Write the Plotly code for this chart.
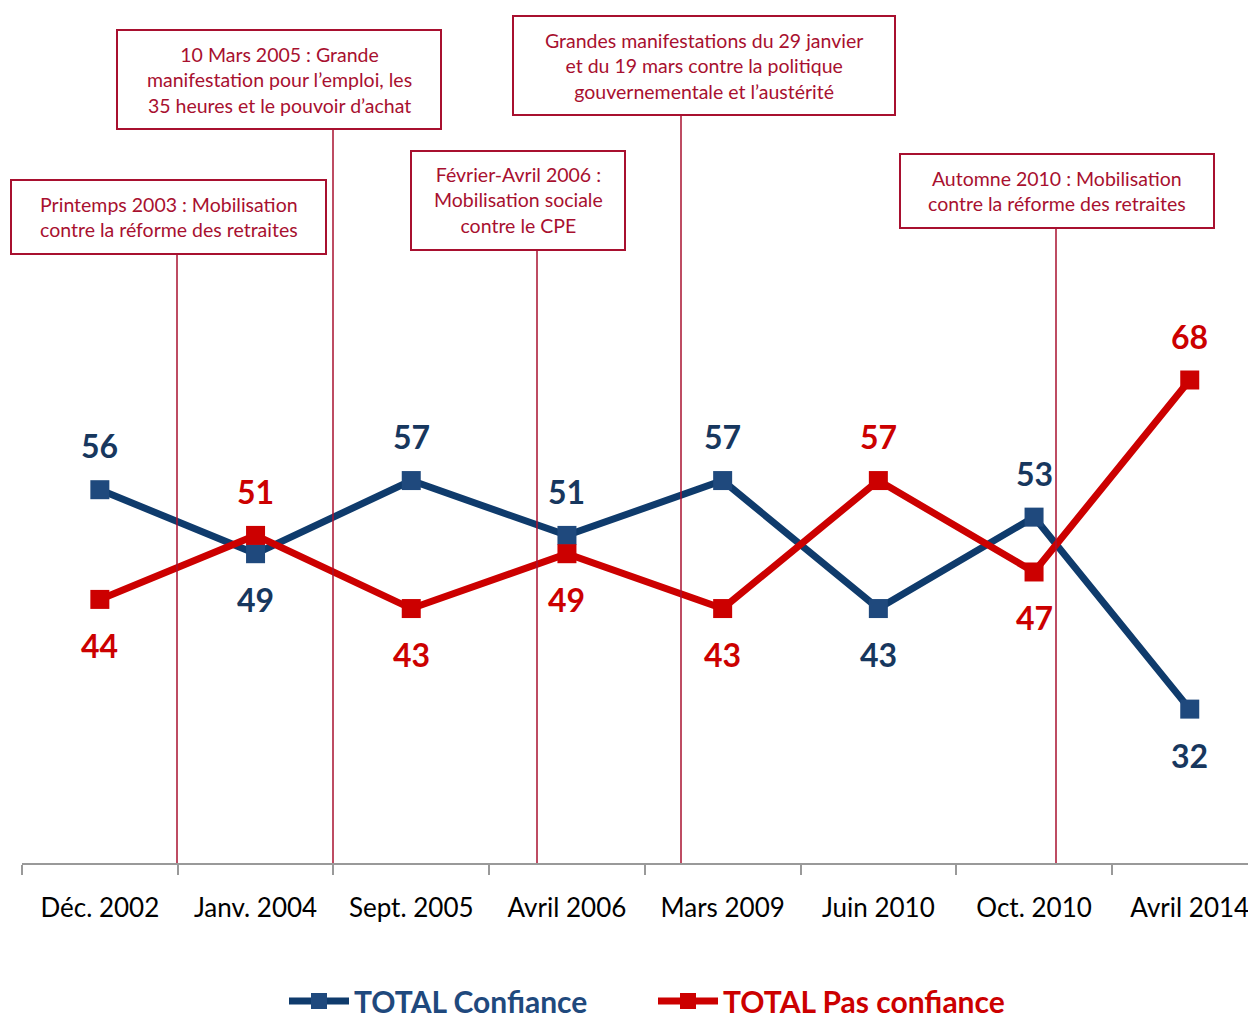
import plotly.graph_objects as go

categories = ["Déc. 2002", "Janv. 2004", "Sept. 2005", "Avril 2006",
              "Mars 2009", "Juin 2010", "Oct. 2010", "Avril 2014"]
confiance = [56, 49, 57, 51, 57, 43, 53, 32]
pas_confiance = [44, 51, 43, 49, 43, 57, 47, 68]
# label placement: +1 above, -1 below
conf_pos = [1, -1, 1, 1, 1, -1, 1, -1]
pas_pos = [-1, 1, -1, -1, -1, 1, -1, 1]

events = [
    "Printemps 2003 : Mobilisation<br>contre la réforme des retraites",
    "10 Mars 2005 : Grande<br>manifestation pour l’emploi, les<br>35 heures et le pouvoir d’achat",
    "Février-Avril 2006 :<br>Mobilisation sociale<br>contre le CPE",
    "Grandes manifestations du 29 janvier<br>et du 19 mars contre la politique<br>gouvernementale et l’austérité",
    "Automne 2010 : Mobilisation<br>contre la réforme des retraites",
]
# box geometry in screen pixels: left, top, right, bottom ; vertical line x in screen pixels
boxes_px = [(11, 180, 326, 254), (117, 30, 441, 129), (411, 151, 625, 250),
            (513, 16, 895, 115), (900, 154, 1214, 228)]
vline_px = [177, 333, 537, 681, 1056]

BLUE_LINE = "#0F3B6C"
BLUE_MARK = "#1F497D"
BLUE_TXT = "#17375E"
RED = "#CC0000"
CRIMSON = "#A8102F"
FONT = "Lato"

OFF = 8  # page body margin
W, H = 1256 - 2 * OFF, 1023 - OFF
ML, MT = 22 - OFF, 0
PLOT_BOTTOM = 863 - OFF
MR, MB = 0, H - PLOT_BOTTOM
PW, PH = W - ML - MR, H - MT - MB
CAT_PX = 155.7
UNIT_PX = 9.142

def px2paper_x(px):
    return (px - OFF - ML) / PW

def px2paper_y(py):
    return (MT + PH - (py - OFF)) / PH

fig = go.Figure()
fig.add_trace(go.Scatter(
    x=categories, y=confiance,
    name=f"<span style='color:{BLUE_MARK}'><b>TOTAL Confiance</b></span>",
    mode="lines+markers",
    line=dict(color=BLUE_LINE, width=7),
    marker=dict(symbol="square", size=19, color=BLUE_MARK),
))
fig.add_trace(go.Scatter(
    x=categories, y=pas_confiance,
    name=f"<span style='color:{RED}'><b>TOTAL Pas confiance</b></span>",
    mode="lines+markers",
    line=dict(color=RED, width=7),
    marker=dict(symbol="square", size=19, color=RED),
))

annotations = []
for c, v, p in zip(categories, confiance, conf_pos):
    annotations.append(dict(x=c, y=v, xref="x", yref="y", text=f"<b>{v}</b>",
                            showarrow=False, yshift=44 if p > 0 else -46,
                            font=dict(family=FONT, size=32, color=BLUE_TXT)))
for c, v, p in zip(categories, pas_confiance, pas_pos):
    annotations.append(dict(x=c, y=v, xref="x", yref="y", text=f"<b>{v}</b>",
                            showarrow=False, yshift=44 if p > 0 else -46,
                            font=dict(family=FONT, size=32, color=RED)))

shapes = []
for txt, (l, t, r, b), vx in zip(events, boxes_px, vline_px):
    shapes.append(dict(type="line", xref="paper", yref="paper",
                       x0=px2paper_x(vx), x1=px2paper_x(vx),
                       y0=px2paper_y(b), y1=0,
                       line=dict(color=CRIMSON, width=1.5), layer="above"))
    shapes.append(dict(type="rect", xref="paper", yref="paper",
                       x0=px2paper_x(l), x1=px2paper_x(r),
                       y0=px2paper_y(b), y1=px2paper_y(t),
                       line=dict(color=CRIMSON, width=2), fillcolor="white", layer="above"))
    annotations.append(dict(x=px2paper_x((l + r) / 2), y=px2paper_y((t + b) / 2),
                            xref="paper", yref="paper", text=txt, showarrow=False,
                            align="center", xanchor="center", yanchor="middle",
                            font=dict(family=FONT, size=19.5, color=CRIMSON)))

fig.update_layout(
    width=W, height=H,
    margin=dict(l=ML, r=MR, t=MT, b=MB, autoexpand=False),
    paper_bgcolor="white", plot_bgcolor="white",
    showlegend=True,
    legend=dict(orientation="h", x=px2paper_x(653), y=px2paper_y(1001),
                xanchor="center", yanchor="middle",
                font=dict(family=FONT, size=30),
                entrywidth=294, itemwidth=60),
    annotations=annotations,
    shapes=shapes,
    font=dict(family=FONT),
)
fig.update_xaxes(
    type="category", range=[-0.5, -0.5 + PW / CAT_PX],
    showline=True, linecolor="#999999", linewidth=1.5,
    ticks="outside", tickson="boundaries", ticklen=10, tickcolor="#999999", tickwidth=1.5,
    showgrid=False, zeroline=False, automargin=False,
    tickfont=dict(family=FONT, size=26, color="black"),
    ticklabelstandoff=21,
)
y_min = 68 - (863 - 380) / UNIT_PX
fig.update_yaxes(visible=False, range=[y_min, y_min + PH / UNIT_PX])

fig.write_html("out.html")
